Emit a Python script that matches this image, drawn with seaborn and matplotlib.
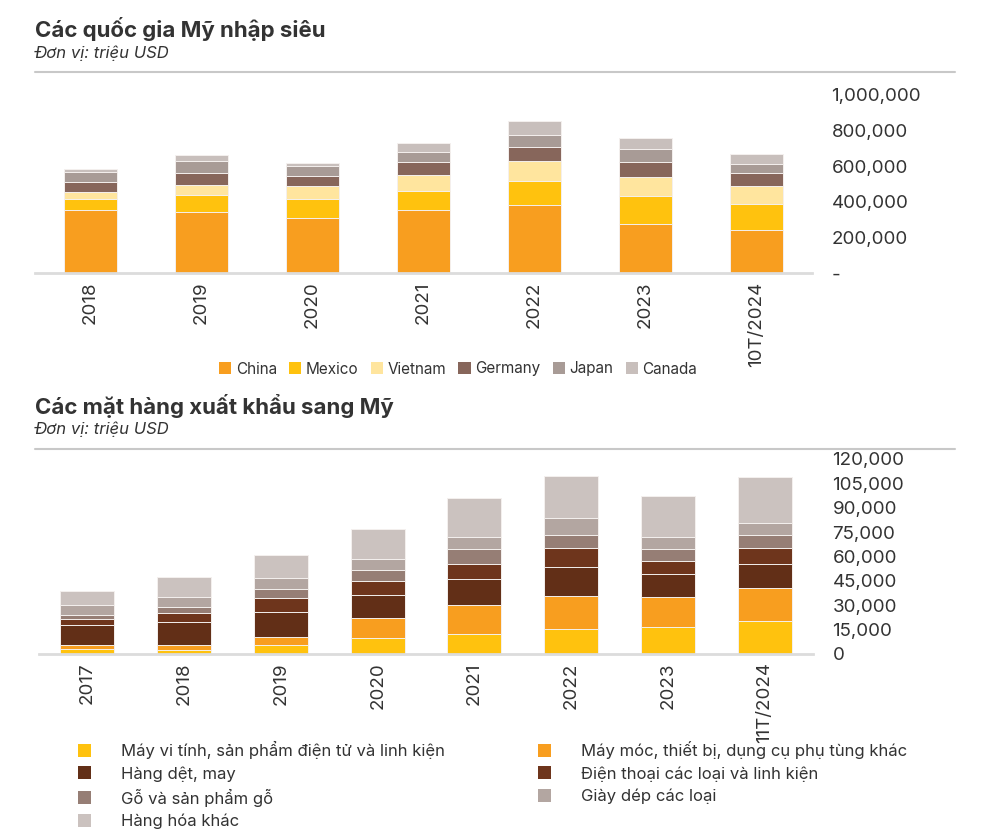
import matplotlib
matplotlib.use("Agg")
import matplotlib.pyplot as plt
import matplotlib.ticker as mticker
from matplotlib.patches import Patch
from matplotlib.lines import Line2D
import seaborn as sns
import numpy as np

# --- data: top chart (trade deficit countries), million USD
years_top = ["2018", "2019", "2020", "2021", "2022", "2023", "10T/2024"]
countries = ["China", "Mexico", "Vietnam", "Germany", "Japan", "Canada"]
china = [356000, 340000, 307000, 352000, 380000, 277000, 243000]
mexico = [62000, 99000, 111000, 107000, 135000, 153000, 142000]
vietnam = [35000, 56000, 71000, 90000, 116000, 109000, 103000]
germany = [60000, 69000, 58000, 73000, 75000, 82000, 71000]
japan = [54000, 67000, 52000, 58000, 67000, 73000, 56000]
canada = [17000, 30000, 17000, 51000, 82000, 64000, 54000]
top_colors = ["#F89E1F", "#FFC20E", "#FFE59E", "#87665B", "#A89B96", "#C8BFBC"]

# --- data: bottom chart (export goods to the US), million USD
years_bot = ["2017", "2018", "2019", "2020", "2021", "2022", "2023", "11T/2024"]
goods = ["Máy vi tính, sản phẩm điện tử và linh kiện",
         "Máy móc, thiết bị, dụng cụ phụ tùng khác",
         "Hàng dệt, may",
         "Điện thoại các loại và linh kiện",
         "Gỗ và sản phẩm gỗ",
         "Giày dép các loại",
         "Hàng hóa khác"]
may_vi_tinh = [3100, 2500, 5700, 10100, 12300, 15400, 16800, 20500]
may_moc = [2500, 3100, 4900, 12100, 17800, 20300, 18000, 20300]
det_may = [12300, 13900, 15000, 14200, 16000, 17800, 14400, 14600]
dien_thoai = [3500, 5500, 8600, 8800, 9400, 11500, 8000, 9600]
go = [2900, 3700, 5500, 6800, 9200, 8400, 7200, 8000]
giay_dep = [5700, 6200, 6800, 6600, 7400, 10100, 7400, 7600]
khac = [9000, 12300, 14600, 18500, 24000, 25800, 25200, 28500]
bot_colors = ["#FFC20E", "#F89E1F", "#622F17", "#6E351C", "#967E75", "#B3A6A1", "#CBC2BF"]

sns.set_theme(style="white")
plt.rcParams["font.family"] = ["Inter", "DejaVu Sans"]
text_c = "#333333"

fig = plt.figure(figsize=(9.84, 8.4), dpi=100)
W, H = 984, 840


def axes_px(left, top, right, bottom):
    return fig.add_axes([left / W, 1 - bottom / H, (right - left) / W, (bottom - top) / H])


def stacked(ax, cats, series, colors, width):
    cum = np.cumsum(np.array(series, dtype=float), axis=0)
    for i in reversed(range(len(series))):
        sns.barplot(x=cats, y=cum[i], color=colors[i], saturation=1, width=width,
                    edgecolor="#f4f0ee", linewidth=0.7, ax=ax)
    ax.set_xlabel("")
    ax.set_ylabel("")
    for s in ["top", "left", "right"]:
        ax.spines[s].set_visible(False)
    ax.spines["bottom"].set_color("#dcdcdc")
    ax.spines["bottom"].set_linewidth(2)
    ax.yaxis.tick_right()
    ax.tick_params(axis="y", length=0, pad=14, labelsize=13.5, colors=text_c)
    ax.tick_params(axis="x", length=0, pad=6, labelsize=13.5, colors=text_c, rotation=90)
    ax.set_xlim(-0.5, len(cats) - 0.5)


# top chart
ax1 = axes_px(35, 95, 812, 273)
stacked(ax1, years_top, [china, mexico, vietnam, germany, japan, canada], top_colors, 0.48)
ax1.set_ylim(0, 1000000)
ax1.set_yticks(np.arange(0, 1000001, 200000))
ax1.yaxis.set_major_formatter(mticker.FuncFormatter(lambda v, p: "-" if v == 0 else f"{int(v):,}"))

# bottom chart
ax2 = axes_px(39, 459, 813, 654)
stacked(ax2, years_bot, [may_vi_tinh, may_moc, det_may, dien_thoai, go, giay_dep, khac], bot_colors, 0.56)
ax2.set_ylim(0, 120000)
ax2.set_yticks(np.arange(0, 120001, 15000))
ax2.yaxis.set_major_formatter(mticker.FuncFormatter(lambda v, p: f"{int(v):,}"))

# titles, subtitles, separator lines
for ty, sy, ly, title in [(29, 53, 72, "Các quốc gia Mỹ nhập siêu"),
                          (406, 429, 449, "Các mặt hàng xuất khẩu sang Mỹ")]:
    fig.text(35 / W, 1 - ty / H, title, fontsize=16, fontweight="bold", color=text_c, va="center")
    fig.text(35 / W, 1 - sy / H, "Đơn vị: triệu USD", fontsize=12, style="italic", color=text_c, va="center")
    fig.add_artist(Line2D([35 / W, 955 / W], [1 - ly / H, 1 - ly / H], color="#c8c8c8", lw=1.5))

# top legend
h1 = [Patch(facecolor=c, edgecolor="none") for c in top_colors]
fig.legend(h1, countries, loc="center", bbox_to_anchor=(458 / W, 1 - 369 / H), ncol=6,
           frameon=False, fontsize=11, handlelength=0.8, handleheight=0.8,
           handletextpad=0.3, columnspacing=0.8, labelcolor=text_c)

# bottom legend, two columns
for idx, x0 in [([0, 2, 4, 6], 78), ([1, 3, 5], 538)]:
    hs = [Patch(facecolor=bot_colors[i], edgecolor="none") for i in idx]
    fig.legend(hs, [goods[i] for i in idx], loc="upper left", bbox_to_anchor=(x0 / W, 1 - 741 / H),
               frameon=False, fontsize=12, handlelength=0.8, handleheight=0.8,
               handletextpad=1.8, labelspacing=0.42, labelcolor=text_c, borderpad=0,
               borderaxespad=0)

fig.savefig("out.png", dpi=100, facecolor="white")
